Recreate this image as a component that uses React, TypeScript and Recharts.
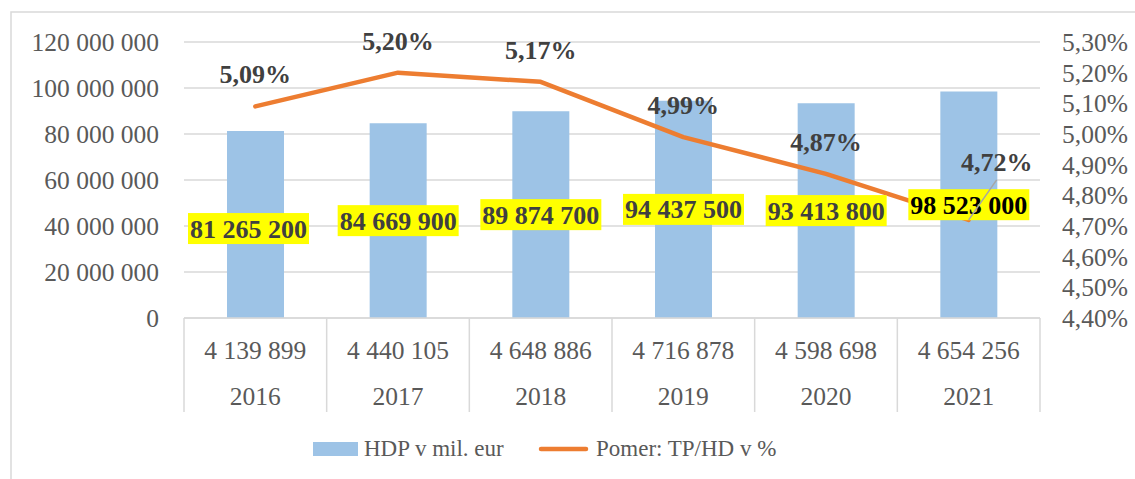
import React from 'react';
import { ComposedChart, Bar, Line, XAxis, YAxis, CartesianGrid, LabelList } from 'recharts';

const categories = ['2016', '2017', '2018', '2019', '2020', '2021'];
const tpValues = [4139899, 4440105, 4648886, 4716878, 4598698, 4654256];
const hdpValues = [81265200, 84669900, 89874700, 94437500, 93413800, 98523000];
const ratioValues = [5.09, 5.2, 5.17, 4.99, 4.87, 4.72];
const leftTicks = [0, 20000000, 40000000, 60000000, 80000000, 100000000, 120000000];
const rightTicks = [4.4, 4.5, 4.6, 4.7, 4.8, 4.9, 5.0, 5.1, 5.2, 5.3];
const seriesNames = ['HDP v mil. eur', 'Pomer: TP/HD v %'];

const data = categories.map((year, i) => ({
  year,
  tp: tpValues[i],
  hdp: hdpValues[i],
  ratio: ratioValues[i],
}));

const W = 1135;
const H = 479;
const LEFT_W = 184;
const RIGHT_W = 95;
const TOP = 42;
const XAXIS_H = 94;
const BOTTOM = H - 318 - XAXIS_H;
const PLOT_W = W - LEFT_W - RIGHT_W;
const FONT = '"Liberation Serif", "Times New Roman", serif';
const GRID = '#D9D9D9';
const TXT = '#595959';
const DARK = '#404040';
const BLUE = '#9DC3E6';
const ORANGE = '#ED7D31';

const spaced = (n: number) => String(Math.round(n)).replace(/\B(?=(\d{3})+(?!\d))/g, ' ');
const pct = (v: number) => v.toFixed(2).replace('.', ',') + '%';

const approxWidth = (s: string, size: number) => {
  let w = 0;
  for (const ch of s) {
    if (ch === ' ' || ch === ',') w += 0.25;
    else if (ch === '%') w += 1.0;
    else w += 0.5;
  }
  return w * size;
};

const XTick = (props: any) => {
  const { x, y, payload } = props;
  const index = payload.index ?? categories.indexOf(payload.value);
  const bw = PLOT_W / categories.length;
  return (
    <g>
      <line x1={x - bw / 2} x2={x - bw / 2} y1={y} y2={y + XAXIS_H} stroke={GRID} strokeWidth={1.5} />
      {index === categories.length - 1 && (
        <line x1={x + bw / 2} x2={x + bw / 2} y1={y} y2={y + XAXIS_H} stroke={GRID} strokeWidth={1.5} />
      )}
      <text x={x} y={y + 41} textAnchor="middle" fill={TXT} fontSize={25.5} fontFamily={FONT}>
        {spaced(tpValues[index])}
      </text>
      <text x={x} y={y + 87} textAnchor="middle" fill={TXT} fontSize={25.5} fontFamily={FONT}>
        {categories[index]}
      </text>
    </g>
  );
};

const BarLabel = (props: any) => {
  const { x, y, width, height, value, index } = props;
  const size = 26;
  const txt = spaced(value);
  let cx = x + width / 2;
  let cy = y + height / 2;
  if (index === 0) {
    cx -= 7;
    cy += 4;
  }
  const tw = approxWidth(txt, size) + 4;
  const th = 31;
  return (
    <g>
      <rect x={cx - tw / 2} y={cy - th / 2} width={tw} height={th} fill="#FFFF00" />
      <text
        x={cx}
        y={cy + 9}
        textAnchor="middle"
        fontWeight="bold"
        fontSize={size}
        fontFamily={FONT}
        fill={index === categories.length - 1 ? '#000000' : DARK}
      >
        {txt}
      </text>
    </g>
  );
};

const LineLabel = (props: any) => {
  const { x, y, value, index } = props;
  const size = 26;
  if (index === categories.length - 1) {
    const lx = x + 28;
    const ly = y - 58;
    return (
      <g>
        <line x1={x} y1={y} x2={lx} y2={ly + 18} stroke="#A6A6A6" strokeWidth={1.5} />
        <text x={lx} y={ly + 9} textAnchor="middle" fontWeight="bold" fontSize={size} fontFamily={FONT} fill={DARK}>
          {pct(value)}
        </text>
      </g>
    );
  }
  return (
    <text x={x} y={y - 32 + 9} textAnchor="middle" fontWeight="bold" fontSize={size} fontFamily={FONT} fill={DARK}>
      {pct(value)}
    </text>
  );
};

export default function App() {
  return (
    <div style={{ position: 'absolute', left: 0, top: 0, width: W, height: H, overflow: 'hidden', background: '#fff' }}>
      <svg width={W} height={H} style={{ position: 'absolute', left: 0, top: 0 }}>
        <rect x={11} y={12} width={W + 20} height={H + 20} fill="none" stroke={GRID} strokeWidth={1.5} />
      </svg>
      <div style={{ position: 'absolute', left: 0, top: 0 }}>
        <ComposedChart
          width={W}
          height={H}
          data={data}
          margin={{ top: TOP, right: 0, bottom: BOTTOM, left: 0 }}
          barSize={57}
        >
          <CartesianGrid vertical={false} stroke={GRID} strokeWidth={1.5} yAxisId="left" />
          <XAxis
            dataKey="year"
            height={XAXIS_H}
            interval={0}
            tickLine={false}
            tickSize={0}
            tickMargin={0}
            axisLine={{ stroke: GRID, strokeWidth: 1.5 }}
            tick={<XTick />}
          />
          <YAxis
            yAxisId="left"
            orientation="left"
            width={LEFT_W}
            domain={[0, 120000000]}
            ticks={leftTicks}
            interval={0}
            tickFormatter={spaced}
            axisLine={false}
            tickLine={false}
            tickSize={0}
            tickMargin={25}
            tick={{ fill: TXT, fontSize: 25.5, fontFamily: FONT }}
          />
          <YAxis
            yAxisId="right"
            orientation="right"
            width={RIGHT_W}
            domain={[4.4, 5.3]}
            ticks={rightTicks}
            interval={0}
            tickFormatter={pct}
            axisLine={false}
            tickLine={false}
            tickSize={0}
            tickMargin={22}
            tick={{ fill: TXT, fontSize: 25.5, fontFamily: FONT }}
          />
          <Bar dataKey="hdp" yAxisId="left" fill={BLUE} isAnimationActive={false}>
            <LabelList dataKey="hdp" content={<BarLabel />} />
          </Bar>
          <Line
            dataKey="ratio"
            yAxisId="right"
            stroke={ORANGE}
            strokeWidth={4.5}
            strokeLinecap="round"
            strokeLinejoin="round"
            dot={false}
            activeDot={false}
            isAnimationActive={false}
          >
            <LabelList dataKey="ratio" content={<LineLabel />} />
          </Line>
        </ComposedChart>
      </div>
      <svg width={W} height={H} style={{ position: 'absolute', left: 0, top: 0, pointerEvents: 'none' }}>
        <rect x={313} y={442} width={45} height={14} fill={BLUE} />
        <text x={364} y={456} fontSize={23} fontFamily={FONT} fill={TXT}>
          {seriesNames[0]}
        </text>
        <line x1={541} x2={586} y1={449} y2={449} stroke={ORANGE} strokeWidth={4.5} strokeLinecap="round" />
        <text x={596} y={456} fontSize={23} fontFamily={FONT} fill={TXT}>
          {seriesNames[1]}
        </text>
      </svg>
    </div>
  );
}
